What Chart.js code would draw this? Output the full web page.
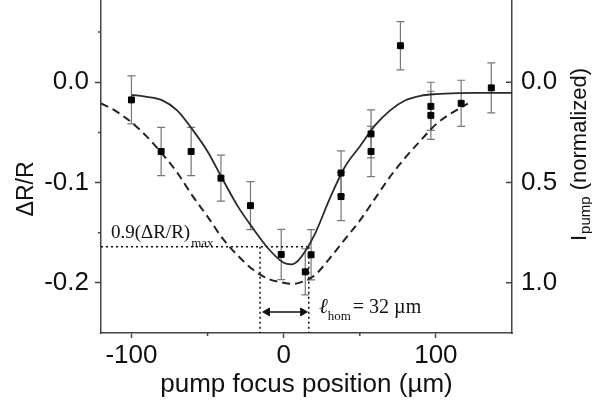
<!DOCTYPE html>
<html>
<head>
<meta charset="utf-8">
<script src="https://cdn.jsdelivr.net/npm/chart.js@4.4.0/dist/chart.umd.min.js"></script>
<style>
  body { margin: 0; background: #fff; }
</style>
</head>
<body>
<canvas id="reflectivityChart" width="592" height="405"></canvas>
<script>
// measured dR/R vs pump focus position (um), with error bars
const pointX = [-100, -80.5, -60.8, -41.2, -21.8, -1.6, 14.2, 18, 37.7, 37.7, 57.4, 57.4, 76.7, 96.7, 96.7, 116.6, 136.4];
const pointY = [-0.0176, -0.069, -0.069, -0.0956, -0.123, -0.1717, -0.189, -0.172, -0.0905, -0.114, -0.0515, -0.069, 0.0364, -0.024, -0.033, -0.021, -0.0056];
const pointErr = [0.024, 0.024, 0.024, 0.023, 0.024, 0.025, 0.023, 0.025, 0.022, 0.024, 0.024, 0.025, 0.024, 0.024, 0.024, 0.023, 0.025];

// fitted curve (solid)
const fitX = [-100, -90, -80, -70, -60, -50, -40, -30, -20, -10, 0, 5, 10, 20, 30, 40, 50, 60, 70, 80, 90, 100, 115, 130, 150];
const fitY = [-0.0126, -0.0145, -0.0178, -0.028, -0.047, -0.069, -0.097, -0.124, -0.146, -0.166, -0.180, -0.1815, -0.177, -0.153, -0.117, -0.085, -0.064, -0.043, -0.028, -0.018, -0.0135, -0.0118, -0.0108, -0.0106, -0.0105];

// pump intensity profile (dashed), normalized, right axis
const pumpX = [-120, -110, -100, -90, -80, -70, -60, -50, -40, -30, -20, -10, 0, 5, 10, 20, 30, 40, 50, 60, 70, 80, 90, 100, 110, 121];
const pumpI = [0.105, 0.145, 0.20, 0.27, 0.355, 0.45, 0.565, 0.67, 0.78, 0.865, 0.935, 0.98, 1.0, 1.005, 1.0, 0.965, 0.88, 0.785, 0.69, 0.58, 0.47, 0.375, 0.29, 0.21, 0.155, 0.107];

// 0.9 (dR/R)max level and the l_hom width marker
const levelY = -0.164;
const levelX = [-15.5, 16.5];
const arrowX = [-10.8, 12.6];
const arrowY = -0.229;

const xTicks = [-100, 0, 100];
const xMinorTicks = [-50, 50];
const yTicks = [-0.2, -0.1, 0.0];
const yMinorTicks = [-0.15, -0.05, 0.05];
const pumpTicks = [0.0, 0.5, 1.0];

const xMin = -120, xMax = 150;
const yMin = -0.25, yMax = 0.082;
const pumpMin = -0.41, pumpMax = 1.25;

const axisColor = '#444';
const textColor = '#111';

function toPoints(xs, ys) {
  return xs.map((v, i) => ({x: v, y: ys[i]}));
}

// pin the axis boxes so the plot area matches the figure
function fixBox(size, isX) {
  return s => {
    if (isX) s.height = size; else s.width = size;
    s.paddingTop = 0; s.paddingBottom = 0;
    s.paddingLeft = 0; s.paddingRight = 0;
  };
}

// error bars, minor ticks, inward right ticks, titles and labels
const extras = {
  id: 'extras',
  beforeDatasetsDraw(chart) {
    const {ctx, scales: {x, y}} = chart;
    ctx.save();
    ctx.strokeStyle = '#777';
    ctx.lineWidth = 1.2;
    pointX.forEach((v, i) => {
      const px = x.getPixelForValue(v);
      const top = y.getPixelForValue(pointY[i] + pointErr[i]);
      const bot = y.getPixelForValue(pointY[i] - pointErr[i]);
      ctx.beginPath();
      ctx.moveTo(px, top); ctx.lineTo(px, bot);
      ctx.moveTo(px - 4, top); ctx.lineTo(px + 4, top);
      ctx.moveTo(px - 4, bot); ctx.lineTo(px + 4, bot);
      ctx.stroke();
    });
    ctx.restore();
  },
  afterDraw(chart) {
    const {ctx, chartArea: area, scales: {x, y, y2}} = chart;
    ctx.save();
    ctx.strokeStyle = axisColor;
    ctx.lineWidth = 1.5;
    ctx.beginPath();
    yMinorTicks.forEach(v => {
      const py = y.getPixelForValue(v);
      ctx.moveTo(area.left - 3, py); ctx.lineTo(area.left, py);
    });
    xMinorTicks.forEach(v => {
      const px = x.getPixelForValue(v);
      ctx.moveTo(px, area.bottom); ctx.lineTo(px, area.bottom + 3);
    });
    pumpTicks.forEach(v => {
      const py = y2.getPixelForValue(v);
      ctx.moveTo(area.right - 6, py); ctx.lineTo(area.right, py);
    });
    ctx.stroke();

    ctx.fillStyle = textColor;
    ctx.textBaseline = 'alphabetic';

    // left title
    ctx.save();
    ctx.translate(33, 189);
    ctx.rotate(-Math.PI / 2);
    ctx.textAlign = 'center';
    ctx.font = '23px "Liberation Sans"';
    ctx.fillText('ΔR/R', 0, 0);
    ctx.restore();

    // right title, reads bottom to top
    ctx.save();
    ctx.translate(586, 241);
    ctx.rotate(-Math.PI / 2);
    ctx.textAlign = 'left';
    ctx.font = '22px "Liberation Sans"';
    ctx.fillText('I', 0, 0);
    let off = ctx.measureText('I').width + 1;
    ctx.font = '15px "Liberation Sans"';
    ctx.fillText('pump', off, 4);
    off += ctx.measureText('pump').width;
    ctx.font = '22px "Liberation Sans"';
    ctx.fillText(' (normalized)', off, 0);
    ctx.restore();

    // 0.9(dR/R)max label
    ctx.textAlign = 'left';
    let lx = x.getPixelForValue(-113.5);
    let ly = y.getPixelForValue(-0.155);
    ctx.font = '19px "Liberation Serif"';
    ctx.fillText('0.9(ΔR/R)', lx, ly);
    let w = ctx.measureText('0.9(ΔR/R)').width;
    ctx.font = '13px "Liberation Serif"';
    ctx.fillText('max', lx + w + 1, ly + 9);

    // l_hom label
    lx = x.getPixelForValue(23.2);
    ly = y.getPixelForValue(-0.23);
    ctx.font = 'italic 21px "Liberation Serif"';
    ctx.fillText('\u2113', lx, ly);
    w = ctx.measureText('\u2113').width;
    ctx.font = '13px "Liberation Serif"';
    ctx.fillText('hom', lx + w, ly + 7);
    w += ctx.measureText('hom').width;
    ctx.font = '20px "Liberation Serif"';
    ctx.fillText('= 32 µm', lx + w + 2, ly);
    ctx.restore();
  }
};

const dotted = {borderColor: '#111', borderWidth: 1.5, borderDash: [2, 3], pointRadius: 0, showLine: true, order: 4};

new Chart(document.getElementById('reflectivityChart'), {
  type: 'scatter',
  data: {
    datasets: [
      {
        label: 'data',
        data: toPoints(pointX, pointY),
        pointStyle: 'rect',
        pointRadius: 4.2,
        pointBorderWidth: 1,
        pointBackgroundColor: '#000',
        pointBorderColor: '#000',
        order: 0
      },
      {
        label: 'fit',
        data: toPoints(fitX, fitY),
        showLine: true,
        borderColor: '#2a2a2a',
        borderWidth: 1.8,
        pointRadius: 0,
        cubicInterpolationMode: 'monotone',
        order: 1
      },
      {
        label: 'pump',
        data: toPoints(pumpX, pumpI),
        yAxisID: 'y2',
        showLine: true,
        borderColor: '#222',
        borderWidth: 2,
        borderDash: [8, 5],
        pointRadius: 0,
        cubicInterpolationMode: 'monotone',
        order: 2
      },
      Object.assign({label: 'level', data: [{x: xMin, y: levelY}, {x: levelX[1], y: levelY}]}, dotted),
      Object.assign({label: 'left edge', data: [{x: levelX[0], y: levelY}, {x: levelX[0], y: yMin}]}, dotted),
      Object.assign({label: 'right edge', data: [{x: levelX[1], y: levelY}, {x: levelX[1], y: yMin}]}, dotted),
      {
        label: 'l_hom',
        data: [{x: arrowX[0], y: arrowY}, {x: arrowX[1], y: arrowY}],
        showLine: true,
        borderColor: '#111',
        borderWidth: 1.5,
        pointStyle: 'triangle',
        pointRadius: 4.5,
        pointRotation: [270, 90],
        pointBackgroundColor: '#111',
        pointBorderColor: '#111',
        pointBorderWidth: 1,
        order: 3
      }
    ]
  },
  options: {
    responsive: false,
    animation: false,
    events: [],
    layout: {padding: 0, autoPadding: false},
    plugins: {
      legend: {display: false},
      tooltip: {enabled: false}
    },
    scales: {
      x: {
        type: 'linear',
        min: xMin,
        max: xMax,
        afterFit: fixBox(72, true),
        afterBuildTicks: s => { s.ticks = xTicks.map(v => ({value: v})); },
        ticks: {
          callback: v => String(v),
          font: {family: 'Liberation Sans', size: 26},
          color: textColor,
          padding: 2,
          maxRotation: 0
        },
        grid: {drawOnChartArea: false, tickLength: 5, tickColor: axisColor, tickWidth: 1.5},
        border: {color: axisColor, width: 1.5},
        title: {
          display: true,
          text: 'pump focus position (µm)',
          font: {family: 'Liberation Sans', size: 26},
          color: textColor,
          padding: {top: 0, bottom: 5}
        }
      },
      y: {
        min: yMin,
        max: yMax,
        afterFit: fixBox(101, false),
        afterBuildTicks: s => { s.ticks = yTicks.map(v => ({value: v})); },
        ticks: {
          callback: v => v.toFixed(1),
          font: {family: 'Liberation Sans', size: 26},
          color: textColor,
          padding: 6
        },
        grid: {drawOnChartArea: false, tickLength: 6, tickColor: axisColor, tickWidth: 1.5},
        border: {color: axisColor, width: 1.5}
      },
      y2: {
        position: 'right',
        reverse: true,
        min: pumpMin,
        max: pumpMax,
        afterFit: fixBox(80, false),
        afterBuildTicks: s => { s.ticks = pumpTicks.map(v => ({value: v})); },
        ticks: {
          callback: v => v.toFixed(1),
          font: {family: 'Liberation Sans', size: 26},
          color: textColor,
          padding: 9
        },
        grid: {drawOnChartArea: false, drawTicks: false},
        border: {color: axisColor, width: 1.5}
      }
    }
  },
  plugins: [extras]
});
</script>
</body>
</html>
